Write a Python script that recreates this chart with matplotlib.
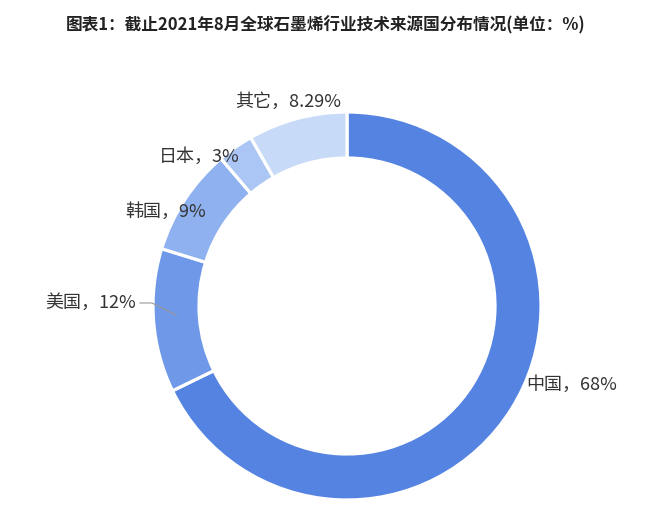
import matplotlib
matplotlib.use('Agg')
import matplotlib.pyplot as plt
import numpy as np

plt.rcParams['font.family'] = ['Noto Sans CJK SC', 'DejaVu Sans']

# data
countries = ['中国', '美国', '韩国', '日本', '其它']
shares = [68, 12, 9, 3, 8.29]
share_text = ['68%', '12%', '9%', '3%', '8.29%']
colors = ['#5583e2', '#6f98e8', '#8fb1ef', '#abc6f4', '#c7daf8']

title = '图表1：截止2021年8月全球石墨烯行业技术来源国分布情况(单位：%)'

W, H = 651, 527
fig = plt.figure(figsize=(W / 100, H / 100), dpi=100)
ax = fig.add_axes([0, 0, 1, 1])

cx, cy = 347, H - 306
r_out, ring = 194, 46

wedges, _ = ax.pie(shares, colors=colors, startangle=90, counterclock=False,
                   center=(cx, cy), radius=r_out, frame=True,
                   wedgeprops=dict(width=ring, edgecolor='white', linewidth=2.3))
ax.set_xlim(0, W)
ax.set_ylim(0, H)
ax.set_aspect('auto')
ax.axis('off')

# label placement (pixel positions of label text centre, y from top)
label_pos = {
    '中国': (572, 385),
    '美国': (91, 303),
    '韩国': (166, 212),
    '日本': (199, 157),
    '其它': (288, 102),
}
for name, txt in zip(countries, share_text):
    x, y = label_pos[name]
    ax.text(x, H - y, name + '，' + txt, ha='center', va='center',
            fontsize=13, color='#333333')

# leader line for 美国
ax.plot([140, 152, 176], [H - 303, H - 303, H - 315], color='#999999', lw=0.8)

fig.text(0.5, 1 - 25 / H, title, ha='center', va='center',
         fontsize=12, fontweight='bold', color='#222222')

fig.savefig('out.png', dpi=100, facecolor='white')
